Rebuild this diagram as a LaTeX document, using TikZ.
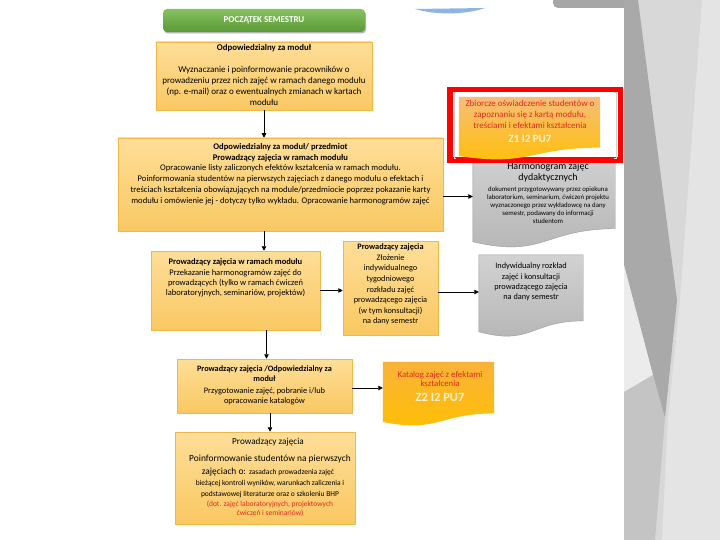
\documentclass[tikz,border=0pt]{standalone}
\usepackage{fontspec}
\setmainfont{Carlito}
\usetikzlibrary{arrows.meta,shadows,calc}
\definecolor{otop}{HTML}{FEDE98}
\definecolor{obot}{HTML}{F9C862}
\definecolor{oborder}{HTML}{F0B849}
\definecolor{gtop}{HTML}{86C160}
\definecolor{gbot}{HTML}{5B9A36}
\definecolor{dtop}{HTML}{D2D2D2}
\definecolor{dbot}{HTML}{B4B4B4}
\definecolor{dborder}{HTML}{9A9A9A}
\definecolor{redtxt}{HTML}{E02B1F}
\definecolor{paleyel}{HTML}{FFF2CC}
\definecolor{ytop}{HTML}{F7BD78}
\definecolor{ybot}{HTML}{FFC000}
\definecolor{ktop}{HTML}{F9B23A}
\definecolor{tabgray}{HTML}{A6A6A6}
\definecolor{pbase}{HTML}{D8D8D8}
\definecolor{plight}{HTML}{E4E4E4}
\definecolor{pdark}{HTML}{A9A9A9}
\definecolor{pwhite}{HTML}{ECECEC}
\definecolor{pmid}{HTML}{C4C4C4}
\definecolor{lensblue}{HTML}{8EB4E3}
\newcommand\fs[2]{\fontsize{#1}{#2}\selectfont}
\newcommand\drawdoc[2]{%
  \path[#2] (#1.north west) -- (#1.north east) -- ($(#1.north east)!0.802!(#1.south east)$)
    .. controls ($(#1.north)!0.802!(#1.south)$) and ($(#1.north)!1.107!(#1.south)$)
    .. ($(#1.north west)!0.934!(#1.south west)$) -- cycle;}
\begin{document}
\begin{tikzpicture}[x=1pt,y=-1pt,
  obox/.style={draw=oborder, line width=0.5pt, top color=otop, bottom color=obot, inner sep=0pt,
    drop shadow={shadow xshift=1.2pt, shadow yshift=-1.2pt, opacity=0.22, fill=black}},
  tx/.style={align=center, inner sep=0pt, text=black},
  arr/.style={-{Triangle[length=4.5pt,width=4.5pt]}, line width=0.75pt, black},
  anchorbox/.style={inner sep=0pt, draw=none},
  graydoc/.style={top color=dtop, bottom color=dbot, draw=dborder, line width=0.4pt},
]
\useasboundingbox (0,0) rectangle (720,540);
\fill[white] (0,0) rectangle (720,540);
% top gray tab and right decorative panel
\fill[rounded corners=5pt, tabgray] (553,-10) rectangle (635,8);
\fill[pbase] (624,0) rectangle (720,540);
\fill[plight] (702,0) -- (720,0) -- (720,540) -- (662,540) -- (668,418) -- (680,300) -- cycle;
\fill[pdark] (624,0) -- (638,0) -- (677,300) -- (665,418) -- (653,383) -- (624,265) -- cycle;
\fill[pwhite] (624,265) -- (653,375) -- (624,392) -- cycle;
\fill[pmid] (624,392) -- (653,375) -- (665,418) -- (655,540) -- (624,540) -- cycle;
% blue lens at the top
\fill[lensblue] (415,9) -- (485,8) .. controls (465,15) and (435,15) .. (415,9) -- cycle;

% start
\node[rounded corners=4pt, top color=gtop, bottom color=gbot, inner sep=0pt,
  minimum width=202, minimum height=23, text=white, font=\bfseries\fs{9}{10},
  drop shadow={shadow xshift=1pt, shadow yshift=-1.5pt, opacity=0.3, fill=black}] (start) at (264,20.5) {POCZĄTEK SEMESTRU};

% box 1
\node[obox, minimum width=216, minimum height=68] (b1) at (264,76) {};
\node[tx, font=\bfseries\fs{8.8}{10}] (b1h) at (264,48) {Odpowiedzialny za moduł};
\node[tx, font=\fs{9}{11}] (b1b) at (264,86) {Wyznaczanie i poinformowanie pracowników o\\prowadzeniu przez nich zajęć w ramach danego modułu\\(np. e-mail) oraz o ewentualnych zmianach w kartach\\modułu};

% box 2
\node[obox, minimum width=325, minimum height=93] (b2) at (280.5,184.5) {};
\node[tx, font=\fs{8.6}{10.8}] (b2t) at (280.5,174) {\textbf{Odpowiedzialny za moduł/ przedmiot}\\\textbf{Prowadzący zajęcia w ramach modułu}\\Opracowanie listy zaliczonych efektów kształcenia w ramach modułu.\\Poinformowania studentów na pierwszych zajęciach z danego modułu o efektach i\\treściach kształcenia obowiązujących na module/przedmiocie poprzez pokazanie karty\\modułu i omówienie jej - dotyczy tylko wykładu. Opracowanie harmonogramów zajęć};
\draw[arr] (b1.south) -- (b1.south |- b2.north);

% harmonogram document
\node[anchorbox, minimum width=142, minimum height=98] (hd) at (544,199) {};
\drawdoc{hd}{graydoc}
\node[tx, font=\fs{10}{11}] (hdt) at (548,172.5) {Harmonogram zajęć\\dydaktycznych};
\node[tx, font=\fs{6.8}{8.1}] (hds) at (548,205) {dokument przygotowywany przez opiekuna\\laboratorium, seminarium, ćwiczeń projektu\\wyznaczonego przez wykładowcę na dany\\semestr, podawany do informacji\\studentom};
\draw[arr] ([yshift=-12pt]b2.east) -- ([yshift=-12pt]b2.east -| hd.west);

% red frame with statement document
\node[draw=red, line width=5.5pt, fill=white, minimum width=170.5, minimum height=70.5, inner sep=0pt] (rf) at (535,125) {};
\draw[gray!35, line width=0.5pt] (456,92) -- (454,92) -- (454,158) -- (456,158);
\draw[gray!35, line width=0.5pt] (614,92) -- (616,92) -- (616,158) -- (614,158);
\node[anchorbox, minimum width=141, minimum height=63] (o1) at (529.5,128.5) {};
\drawdoc{o1}{top color=ytop, bottom color=ybot}
\node[tx, text=redtxt, font=\fs{9}{11.2}] (o1t) at (530,114.5) {Zbiorcze oświadczenie studentów o\\zapoznaniu się z kartą modułu,\\treściami i efektami kształcenia};
\node[tx, text=paleyel, font=\bfseries\fs{11}{12}] (o1c) at (530,138.5) {Z1 I2 PU7};

% box 3
\node[obox, minimum width=169, minimum height=79] (b3) at (235.5,290.5) {};
\node[tx, font=\fs{8.5}{10.4}] (b3t) at (235.5,278) {\textbf{Prowadzący zajęcia w ramach modułu}\\Przekazanie harmonogramów zajęć do\\prowadzących (tylko w ramach ćwiczeń\\laboratoryjnych, seminariów, projektów)};
\draw[arr] (b1.south |- b2.south) -- (b1.south |- b3.north);

% box 3b
\node[obox, minimum width=95, minimum height=94] (b3b) at (390.5,288) {};
\node[tx, font=\fs{8.3}{10.6}] (b3bt) at (390.5,284.5) {\textbf{Prowadzący zajęcia}\\Złożenie\\indywidualnego\\tygodniowego\\rozkładu zajęć\\prowadzącego zajęcia\\(w tym konsultacji)\\na dany semestr};
\draw[arr] (b3.east) -- (b3.east -| b3b.west);

% individual schedule document
\node[anchorbox, minimum width=104, minimum height=82] (d2) at (531,296) {};
\drawdoc{d2}{graydoc}
\node[tx, font=\fs{8.3}{10.3}] (d2t) at (531,282) {Indywidualny rozkład\\zajęć i konsultacji\\prowadzącego zajęcia\\na dany semestr};
\draw[arr] ([yshift=-4pt]b3b.east) -- ([yshift=-4pt]b3b.east -| d2.west);

% box 4
\node[obox, minimum width=175, minimum height=54] (b4) at (264.5,386) {};
\node[tx, font=\bfseries\fs{8.2}{10}] (b4h) at (264.5,373.5) {Prowadzący zajęcia /Odpowiedzialny za\\moduł};
\node[tx, font=\fs{8.4}{10}] (b4b) at (264.5,396.5) {Przygotowanie zajęć, pobranie i/lub\\opracowanie katalogów};
\draw[arr] ([xshift=2pt]b4.north |- b3.south) -- ([xshift=2pt]b4.north);

% catalogue document
\node[anchorbox, minimum width=111, minimum height=64] (kat) at (438.5,394) {};
\drawdoc{kat}{top color=ktop, bottom color=ybot}
\node[tx, text=redtxt, font=\fs{8.8}{9.5}] (katt) at (440,379) {Katalog zajęć z efektami\\kształcenia};
\node[tx, text=paleyel, font=\bfseries\fs{12.5}{13}] (katc) at (440,397.5) {Z2 I2 PU7};
\draw[arr] ([yshift=-2pt]b4.east) -- ([yshift=-2pt]b4.east -| kat.west);

% box 5
\node[obox, minimum width=180, minimum height=92] (b5) at (265,478) {};
\draw[arr] ([xshift=5.5pt]b4.south) -- ([xshift=5.5pt]b4.south |- b5.north);
\node[tx, font=\fs{9.2}{10}] (b5h) at (268,442) {Prowadzący zajęcia};
\node[tx, font=\fs{9.4}{10}] (b5a) at (270,459) {Poinformowanie studentów na pierwszych};
\node[tx] (b5b) at (268,472) {{\fs{9.4}{10}zajęciach o:} {\fs{7.5}{8}zasadach prowadzenia zajęć}};
\node[tx, font=\fs{7.5}{11}] (b5c) at (270,489.5) {bieżącej kontroli wyników, warunkach zaliczenia i\\podstawowej literaturze oraz o szkoleniu BHP};
\node[tx, text=redtxt, font=\fs{7.5}{8.5}] (b5d) at (270,509) {(dot. zajęć laboratoryjnych, projektowych\\ćwiczeń i seminariów)};
\end{tikzpicture}
\end{document}
